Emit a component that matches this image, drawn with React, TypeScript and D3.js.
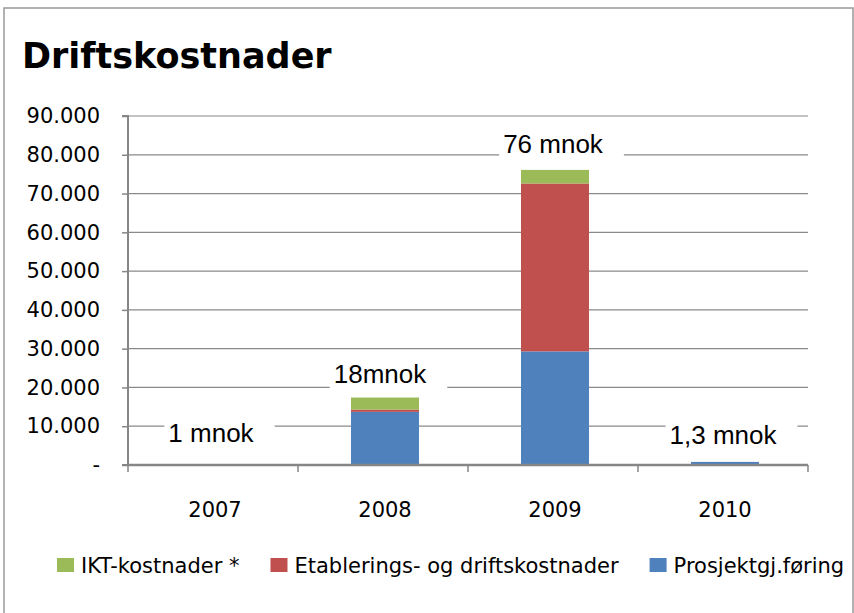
import React, { useRef, useEffect } from 'react';
import * as d3 from 'd3';

const years = ['2007', '2008', '2009', '2010'];
// stacked from bottom: Prosjektgj.føring, Etablerings- og driftskostnader, IKT-kostnader *
const prosjekt = [0, 13700, 29300, 800];
const etablering = [0, 600, 43300, 0];
const ikt = [0, 3100, 3500, 0];

const seriesNames = ['Prosjektgj.føring', 'Etablerings- og driftskostnader', 'IKT-kostnader *'];
const seriesColors = ['#4F81BD', '#C0504D', '#9BBB59'];
const legendOrder = [2, 1, 0];

const yTicks = [0, 10000, 20000, 30000, 40000, 50000, 60000, 70000, 80000, 90000];

// annotation text boxes, with the value where the text baseline sits
const noteText = ['1 mnok', '18mnok', '76 mnok', '1,3 mnok'];
const noteBase = [6000, 21200, 80500, 5500];
const noteShift = [-4, -5, -2, -2];

const W = 854;
const H = 613;

const fmt = (v: number) => (v === 0 ? '-' : d3.format(',')(v).replace(/,/g, '.'));

const App: React.FC = () => {
    const svgRef = useRef<SVGSVGElement>(null);

    useEffect(() => {
        const svg = d3.select(svgRef.current);
        svg.selectAll('*').remove();

        const margin = { top: 116, right: 46, bottom: 148, left: 128 };
        const width = W - margin.left - margin.right;
        const height = H - margin.top - margin.bottom;

        const font = '"DejaVu Sans", sans-serif';

        // outer frame
        svg.append('rect')
            .attr('x', 4).attr('y', 8)
            .attr('width', 849).attr('height', 640)
            .attr('fill', '#fff')
            .attr('stroke', '#999')
            .attr('stroke-width', 1.5);

        svg.append('text')
            .attr('x', 22).attr('y', 68)
            .attr('font-family', font)
            .attr('font-weight', 'bold')
            .attr('font-size', 35)
            .text('Driftskostnader');

        const g = svg.append('g').attr('transform', `translate(${margin.left},${margin.top})`);

        const x = d3.scaleBand<string>().domain(years).range([2, width + 2]).paddingInner(0.6).paddingOuter(0.3);
        const y = d3.scaleLinear().domain([0, 90000]).range([height, 0]);

        // gridlines
        g.selectAll('.grid')
            .data(yTicks.slice(1))
            .join('line')
            .attr('x1', 0).attr('x2', width)
            .attr('y1', d => y(d)).attr('y2', d => y(d))
            .attr('stroke', '#8a8a8a')
            .attr('stroke-width', 1.2);

        const stack = d3.stack<number>()
            .keys(['0', '1', '2'])
            .value((i, k) => [prosjekt, etablering, ikt][+k][i]);
        const layers = stack(years.map((_, i) => i));

        layers.forEach((layer, li) => {
            g.selectAll(`.bar${li}`)
                .data(layer)
                .join('rect')
                .attr('x', (_, i) => x(years[i]) as number)
                .attr('width', x.bandwidth())
                .attr('y', d => y(d[1]))
                .attr('height', d => y(d[0]) - y(d[1]))
                .attr('fill', seriesColors[li]);
        });

        // y axis
        const yAxis = g.append('g').call(
            d3.axisLeft(y).tickValues(yTicks).tickSize(6).tickPadding(22).tickFormat(d => fmt(+d))
        );
        yAxis.select('.domain').attr('stroke', '#868686').attr('stroke-width', 2).attr('d', `M-6,0H0V${height}H-6`);
        yAxis.selectAll('.tick line').attr('stroke', '#868686').attr('stroke-width', 1.5);
        yAxis.selectAll('.tick text')
            .attr('font-family', font).attr('font-size', 21).attr('fill', '#000');

        // x axis
        const xAxis = g.append('g').attr('transform', `translate(0,${height})`);
        xAxis.append('line')
            .attr('x1', 0).attr('x2', width)
            .attr('stroke', '#868686').attr('stroke-width', 2.5);
        const step = x.step();
        xAxis.selectAll('.xt')
            .data(d3.range(years.length + 1))
            .join('line')
            .attr('x1', i => i * step).attr('x2', i => i * step)
            .attr('y1', 0).attr('y2', 7)
            .attr('stroke', '#868686').attr('stroke-width', 1.5);
        xAxis.selectAll('.xl')
            .data(years)
            .join('text')
            .attr('x', d => (x(d) as number) + x.bandwidth() / 2)
            .attr('y', 52)
            .attr('text-anchor', 'middle')
            .attr('font-family', font).attr('font-size', 21)
            .text(d => d);

        // annotations with white boxes
        noteText.forEach((t, i) => {
            const cx = (x(years[i]) as number) + x.bandwidth() / 2 + noteShift[i];
            const ng = g.append('g');
            const box = ng.append('rect').attr('fill', '#fff');
            const txt = ng.append('text')
                .attr('x', cx).attr('y', y(noteBase[i]))
                .attr('text-anchor', 'middle')
                .attr('font-family', '"Liberation Sans", Arial, sans-serif')
                .attr('font-size', 26)
                .text(t);
            const bb = (txt.node() as SVGTextElement).getBBox();
            box.attr('x', bb.x - 4).attr('y', bb.y + 2)
                .attr('width', bb.width + 24).attr('height', bb.height - 2);
        });

        // legend
        let lx = 57;
        const ly = 573;
        legendOrder.forEach(si => {
            svg.append('rect')
                .attr('x', lx).attr('y', ly - 15)
                .attr('width', 17).attr('height', 14)
                .attr('fill', seriesColors[si]);
            const t = svg.append('text')
                .attr('x', lx + 24).attr('y', ly)
                .attr('font-family', font).attr('font-size', 21)
                .text(seriesNames[si]);
            lx += 24 + (t.node() as SVGTextElement).getComputedTextLength() + 31;
        });
    }, []);

    return (
        <div style={{ position: 'absolute', left: 0, top: 0 }}>
            <svg ref={svgRef} width={W} height={H} style={{ display: 'block' }}></svg>
        </div>
    );
};

export default App;
